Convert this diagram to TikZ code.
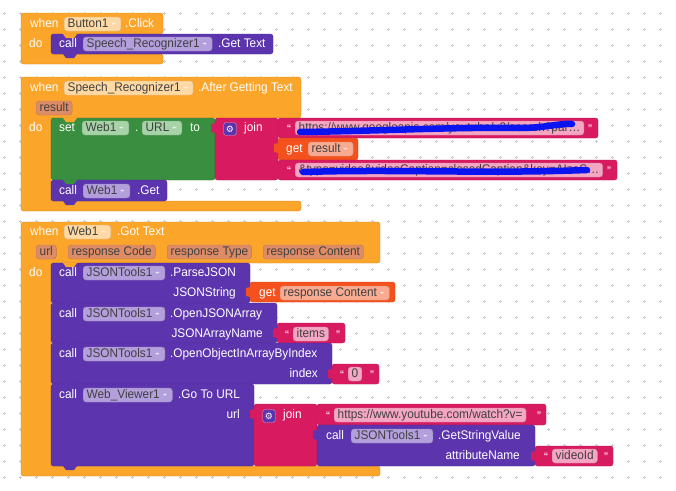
\documentclass[tikz,border=0pt]{standalone}
\usepackage{fontspec}
\setmainfont{Liberation Sans}[FakeStretch=0.945]
\newfontfamily\symfont{DejaVu Sans}
\usepackage{tikz}
\usepackage{xcolor}
\usetikzlibrary{positioning}

\definecolor{evt}{HTML}{FBA52B}
\definecolor{evtF}{HTML}{FFD9A3}
\definecolor{par}{HTML}{DE8C66}
\definecolor{meth}{HTML}{5C35AE}
\definecolor{methF}{HTML}{B49FDD}
\definecolor{setg}{HTML}{3A8E3F}
\definecolor{setF}{HTML}{A6D3A8}
\definecolor{txt}{HTML}{D81B60}
\definecolor{txtF}{HTML}{F4A6C3}
\definecolor{getv}{HTML}{F4511E}
\definecolor{getF}{HTML}{F9AB92}
\definecolor{dot}{HTML}{CCCCCC}
\definecolor{scrib}{HTML}{0A14F0}

\newcommand\bfs{\fontsize{12.5pt}{14pt}\selectfont}
\newcommand\nexttab[3]{\fill[#3] (#1+12,#2-.6) -- (#1+12,#2) -- (#1+15,#2+4) -- (#1+23,#2+4) -- (#1+26,#2) -- (#1+26,#2-.6) -- cycle;}
\newcommand\outtab[3]{\fill[#3] (#1+.6,#2+5) -- (#1-4,#2+6) -- (#1-4,#2+14) -- (#1+.6,#2+15) -- cycle;}

\tikzset{
  blk/.style={fill=#1, draw=#1!85!black, line width=.4pt, rounded corners=2.5pt},
  lbl/.style={text=white, anchor=west, inner sep=0pt, text height=9pt, text depth=2.5pt},
  rlbl/.style={lbl, anchor=east},
  chip/.style={anchor=west, fill=#1, draw=#1!85!black, line width=.4pt, rounded corners=3pt,
    inner xsep=3.5pt, inner ysep=0pt, minimum height=14pt, text height=9pt, text depth=2.5pt, text=black!75},
  dd/.style={chip=#1, execute at end node=\hspace{9pt},
    path picture={\fill[white,opacity=.75] ([shift={(-10pt,1.5pt)}]path picture bounding box.east) -- ++(5pt,0pt) -- ++(-2.5pt,-3pt) -- cycle;}},
  quot/.style={text=white, inner sep=0pt},
  gear/.style={fill=meth, draw=white!60!meth, rounded corners=2pt, minimum size=12.5pt, inner sep=0pt, text=white, font=\symfont\small}
}

\begin{document}
\begin{tikzpicture}[x=1pt, y=-1pt, font=\bfs]
\useasboundingbox (0,0) rectangle (676,490);
\fill[white] (0,0) rectangle (676,490);
% workspace dots
\foreach \i in {0,...,41}
  \foreach \j in {0,...,29}
    \draw[dot, line width=.6pt] (4.7+16*\i-1.6,13.3+16*\j) -- ++(3.2,0) (4.7+16*\i,13.3+16*\j-1.6) -- ++(0,3.2);
%
% when Button1.Click
\draw[blk=evt] (21,13) -- (163,13) -- (163,34) -- (51,34) -- (51,54) -- (163,54) -- (163,64) -- (21,64) -- cycle;
\draw[blk=meth] (51,34) rectangle (273,54);
\nexttab{51}{34}{evt}
\nexttab{51}{54}{meth}
%
\node[lbl] (w1) at (30,24) {when};
\node[dd=evtF] (b1) at (64,24) {Button1};
\node[lbl] (c1) at (125,24) {.Click};
\node[lbl] (d1) at (29,44) {do};
\node[lbl] (k1) at (59,44) {call};
\node[dd=methF] (s1) at (83,44) {Speech\_Recognizer1};
\node[lbl] (g1) at (218,44) {.Get Text};
%
% when Speech_Recognizer1.AfterGettingText
\draw[blk=evt] (21,77) -- (301,77) -- (301,118) -- (51,118) -- (51,201) -- (301,201) -- (301,211) -- (21,211) -- cycle;
\draw[blk=setg] (51,118) rectangle (215,180);
\draw[blk=txt] (215,118) rectangle (278,180);
\draw[blk=txt] (278,118) rectangle (598,138);
\draw[blk=getv] (278,138) rectangle (358,160);
\draw[blk=txt] (278,160) rectangle (617,180);
\draw[blk=meth] (51,180) rectangle (167,201);
\nexttab{51}{118}{evt}
\nexttab{51}{180}{setg}
\nexttab{51}{201}{meth}
\outtab{215}{118}{txt}
\outtab{278}{118}{txt}
\outtab{278}{138}{getv}
\outtab{278}{160}{txt}
%
\node[lbl] (w2) at (30,88) {when};
\node[dd=evtF] (s2) at (64,88) {Speech\_Recognizer1};
\node[lbl] (a2) at (198,88) {.After Getting Text};
\node[chip=par] (r2) at (36,108) {result};
\node[lbl] (d2) at (29,128) {do};
\node[lbl] (t2) at (59,128) {set};
\node[dd=setF] (u2) at (82,128) {Web1};
\node[lbl] (p2) at (135,128) {.};
\node[dd=setF] (v2) at (142,128) {URL};
\node[lbl] (o2) at (190,128) {to};
\node[gear] (x2) at (230,129) {⚙};
\node[lbl] (j2) at (244,128) {join};
\node[quot] (q2) at (289,129) {“};
\node[chip=txtF, minimum width=287pt] (h2) at (295,128) {https://www.googleapis.com/youtube/v3/search?par…};
\node[quot] (e2) at (590,129) {”};
\node[lbl] (n2) at (286,149) {get};
\node[dd=getF] (r3) at (308,149) {result};
\node[quot] (q3) at (289,171) {“};
\node[chip=txtF, minimum width=306pt] (h3) at (295,170) {\&type=video\&videoCaption=closedCaption\&key=AIzaS…};
\node[quot] (e3) at (609,171) {”};
\node[lbl] (k2) at (59,191) {call};
\node[dd=methF] (u3) at (83,191) {Web1};
\node[lbl] (y2) at (137,191) {.Get};
% scribbles over the address
\draw[scrib, line width=6.5pt, line cap=round] (300,132) .. controls (380,131) and (450,127) .. (520,128) .. controls (545,128) and (560,123) .. (572,124);
\draw[scrib, line width=6.5pt, line cap=round] (303,172) .. controls (400,169) and (480,174) .. (587,170);
%
% when Web1.GotText
\draw[blk=evt] (21,222) -- (380,222) -- (380,263) -- (51,263) -- (51,466) -- (380,466) -- (380,476) -- (21,476) -- cycle;
\draw[blk=meth] (51,263) rectangle (250,303);
\draw[blk=getv] (250,282) rectangle (395,302);
\draw[blk=meth] (51,303) rectangle (277,343);
\draw[blk=txt] (277,323) rectangle (345,343);
\draw[blk=meth] (51,343) rectangle (332,384);
\draw[blk=txt] (332,364) rectangle (379,384);
\draw[blk=meth] (51,384) rectangle (254,466);
\draw[blk=txt] (254,404) rectangle (317,466);
\draw[blk=txt] (317,404) rectangle (546,425);
\draw[blk=meth] (317,425) rectangle (535,466);
\draw[blk=txt] (535,446) rectangle (613,466);
\nexttab{51}{263}{evt}
\nexttab{51}{303}{meth}
\nexttab{51}{343}{meth}
\nexttab{51}{384}{meth}
\nexttab{51}{466}{meth}
\outtab{250}{282}{getv}
\outtab{277}{323}{txt}
\outtab{332}{364}{txt}
\outtab{254}{404}{txt}
\outtab{317}{404}{txt}
\outtab{317}{425}{meth}
\outtab{535}{446}{txt}
%
\node[lbl] (w3) at (30,232) {when};
\node[dd=evtF] (u4) at (64,232) {Web1};
\node[lbl] (t3) at (117,232) {.Got Text};
\node[chip=par] (p3) at (36,252) {url};
\node[chip=par] (p4) at (68,252) {response Code};
\node[chip=par] (p5) at (167,252) {response Type};
\node[chip=par] (p6) at (263,252) {response Content};
\node[lbl] (d3) at (29,273) {do};
\node[lbl] (k3) at (59,273) {call};
\node[dd=methF] (m3) at (83,273) {JSONTools1};
\node[lbl] (f3) at (170,273) {.ParseJSON};
\node[rlbl] (a3) at (236,293) {JSONString};
\node[lbl] (n3) at (259,293) {get};
\node[dd=getF] (r4) at (280,293) {response Content};
%
\node[lbl] (k4) at (59,314) {call};
\node[dd=methF] (m4) at (83,314) {JSONTools1};
\node[lbl] (f4) at (170,314) {.OpenJSONArray};
\node[rlbl] (a4) at (263,334) {JSONArrayName};
\node[quot] (q4) at (287,335) {“};
\node[chip=txtF] (i4) at (293,334) {items};
\node[quot] (e4) at (338,335) {”};
%
\node[lbl] (k5) at (59,354) {call};
\node[dd=methF] (m5) at (83,354) {JSONTools1};
\node[lbl] (f5) at (170,354) {.OpenObjectInArrayByIndex};
\node[rlbl] (a5) at (318,374) {index};
\node[quot] (q5) at (342,375) {“};
\node[chip=txtF] (i5) at (348,374) {0};
\node[quot] (e5) at (372,375) {”};
%
\node[lbl] (k6) at (59,395) {call};
\node[dd=methF] (m6) at (83,395) {Web\_Viewer1};
\node[lbl] (f6) at (178,395) {.Go To URL};
\node[rlbl] (a6) at (240,415) {url};
\node[gear] (x6) at (269,416) {⚙};
\node[lbl] (j6) at (283,415) {join};
\node[quot] (q6) at (328,416) {“};
\node[chip=txtF] (i6) at (334,415) {https://www.youtube.com/watch?v=};
\node[quot] (e6) at (539,416) {”};
\node[lbl] (k7) at (326,436) {call};
\node[dd=methF] (m7) at (351,436) {JSONTools1};
\node[lbl] (f7) at (438,436) {.GetStringValue};
\node[rlbl] (a7) at (520,456) {attributeName};
\node[quot] (q7) at (546,457) {“};
\node[chip=txtF] (i7) at (552,456) {videoId};
\node[quot] (e7) at (606,457) {”};
\end{tikzpicture}
\end{document}
